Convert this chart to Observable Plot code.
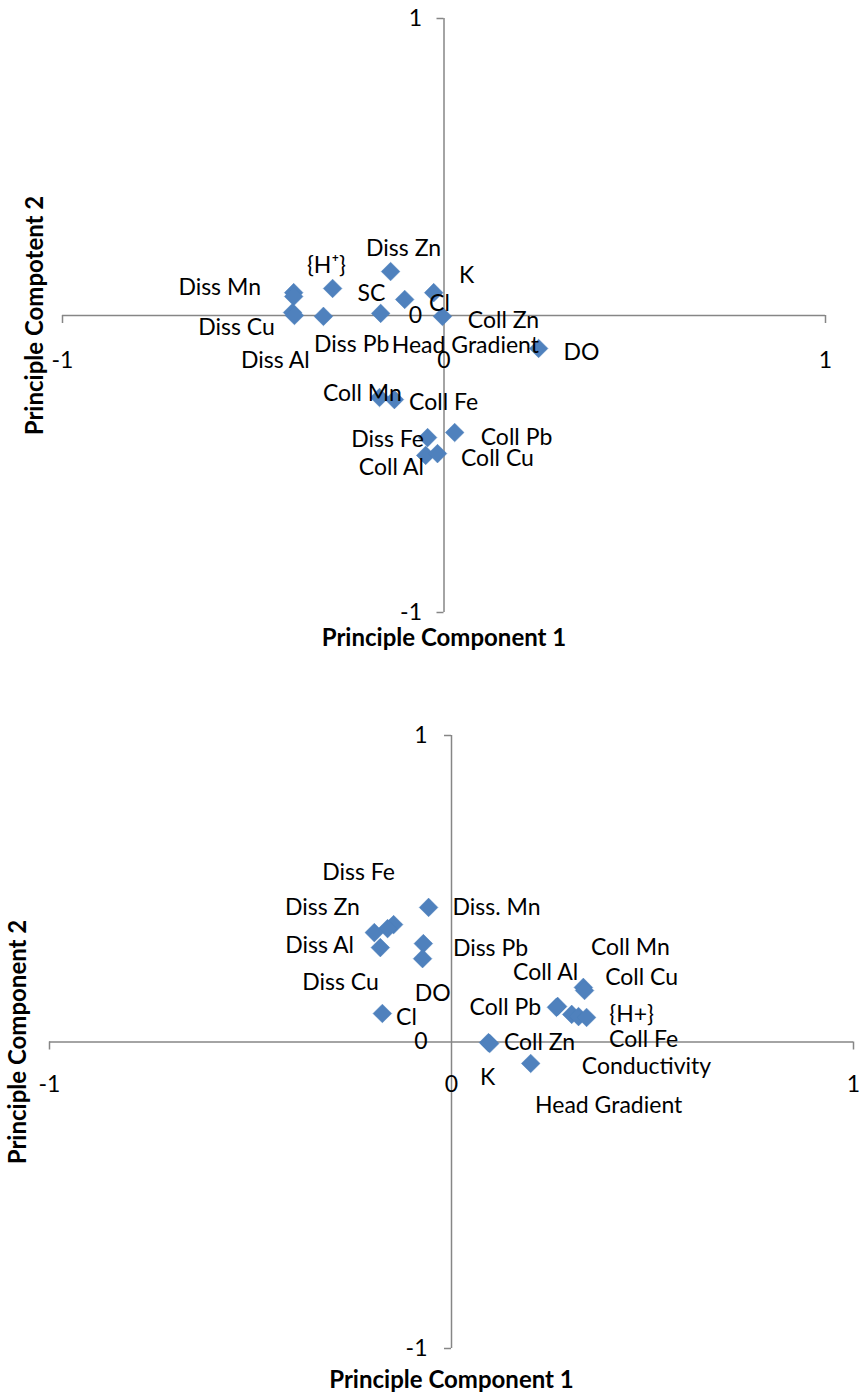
<!DOCTYPE html>
<html>
<head>
<meta charset="utf-8">
<script src="https://cdn.jsdelivr.net/npm/d3@7"></script>
<script src="https://cdn.jsdelivr.net/npm/@observablehq/plot@0.6"></script>
<style>
  body { margin: 0; background: #fff; }
  #charts { width: 862px; }
  #charts svg { display: block; }
</style>
</head>
<body>
<div id="charts"></div>
<script>
// ---- First analysis: loadings on PC1 / PC2 ----
const topNames = ["Diss Zn", "{H⁺}", "Diss Mn", "Diss Cu", "Diss Al", "Diss Pb", "SC", "Head Gradient", "Cl", "K", "Coll Zn", "DO", "Coll Mn", "Coll Fe", "Diss Fe", "Coll Pb", "Coll Al", "Coll Cu"];
const topPC1 = [-0.140, -0.292, -0.394, -0.394, -0.397, -0.392, -0.316, -0.166, -0.103, -0.027, -0.004, 0.248, -0.169, -0.130, -0.043, 0.028, -0.048, -0.017];
const topPC2 = [0.148, 0.091, 0.077, 0.064, 0.010, 0.000, -0.003, 0.007, 0.054, 0.077, -0.003, -0.111, -0.276, -0.283, -0.411, -0.394, -0.471, -0.465];
// where each data label sits (same units as the loadings)
const topLabelPC1 = [-0.106, -0.308, -0.588, -0.544, -0.442, -0.242, -0.190, 0.056, -0.012, 0.059, 0.156, 0.360, -0.214, -0.001, -0.148, 0.190, -0.138, 0.140];
const topLabelPC2 = [0.226, 0.168, 0.094, -0.040, -0.152, -0.098, 0.074, -0.101, 0.040, 0.135, -0.017, -0.125, -0.263, -0.293, -0.418, -0.411, -0.512, -0.481];

// ---- Second analysis ----
const botNames = ["Diss. Mn", "Diss Fe", "Diss Zn", "Diss Al", "Diss Cu", "Diss Pb", "DO", "Cl", "Coll Mn", "Coll Cu", "Coll Al", "Coll Pb", "{H+}", "Conductivity", "Coll Fe", "Coll Zn", "K", "Head Gradient"];
const botPC1 = [-0.057, -0.144, -0.159, -0.192, -0.177, -0.070, -0.072, -0.172, 0.328, 0.331, 0.264, 0.261, 0.299, 0.316, 0.336, 0.092, 0.095, 0.197];
const botPC2 = [0.439, 0.383, 0.370, 0.357, 0.308, 0.321, 0.272, 0.093, 0.178, 0.168, 0.116, 0.113, 0.090, 0.083, 0.080, -0.002, -0.005, -0.070];
const botLabelPC1 = [0.112, -0.231, -0.321, -0.328, -0.276, 0.097, -0.047, -0.112, 0.445, 0.473, 0.234, 0.134, 0.448, 0.485, 0.478, 0.219, 0.090, 0.391];
const botLabelPC2 = [0.439, 0.553, 0.439, 0.315, 0.194, 0.305, 0.158, 0.080, 0.308, 0.210, 0.227, 0.113, 0.090, -0.080, 0.008, -0.002, -0.116, -0.207];

const axisEnds = [-1, 1];
const axisZero = [0];
const tickValues = [-1, 0, 1];
const xTitle = "Principle Component 1";
const topYTitle = "Principle Compotent 2";
const botYTitle = "Principle Component 2";

const FONT = "Lato, 'Noto Sans', sans-serif";
const FS = 23;
const TITLE_FS = 24;
const AXIS = "#868686";
const BLUE = "#4F81BD";

function loadingPlot({names, pc1, pc2, lab1, lab2, yTitle, height, marginTop, marginBottom, marginLeft, marginRight, yTitleDx, xLabelDy, xTitleDy, yLabelDx}) {
  const pts = names.map((name, i) => ({name, pc1: pc1[i], pc2: pc2[i], l1: lab1[i], l2: lab2[i]}));
  return Plot.plot({
    width: 862,
    height,
    marginTop, marginBottom, marginLeft, marginRight,
    x: {domain: [-1, 1], axis: null},
    y: {domain: [-1, 1], axis: null},
    style: {fontFamily: FONT, fontSize: FS + "px", background: "#fff", overflow: "visible"},
    marks: [
      // axes crossing at the origin
      Plot.ruleY(axisZero, {x1: -1, x2: 1, stroke: AXIS, strokeWidth: 1.5}),
      Plot.ruleX(axisZero, {y1: -1, y2: 1, stroke: AXIS, strokeWidth: 1.5}),
      // tick marks at the axis ends
      Plot.ruleX(axisEnds, {y1: 0, y2: 0, insetBottom: -8, stroke: AXIS, strokeWidth: 1.5}),
      Plot.ruleY(axisEnds, {x1: 0, x2: 0, insetLeft: -7, stroke: AXIS, strokeWidth: 1.5}),
      // tick labels
      Plot.text(tickValues, {x: d => d, y: 0, text: d => String(d), dy: xLabelDy, fill: "#000", fontSize: FS}),
      Plot.text(tickValues, {x: 0, y: d => d, text: d => String(d), dx: yLabelDx, textAnchor: "end", fill: "#000", fontSize: FS}),
      // loadings
      Plot.dot(pts, {x: "pc1", y: "pc2", symbol: "diamond2", r: 8.4, fill: BLUE, stroke: "#4A7EBB", strokeWidth: 0.5}),
      Plot.text(pts, {x: "l1", y: "l2", text: "name", fill: "#000", fontSize: FS}),
      // axis titles
      Plot.text([xTitle], {frameAnchor: "bottom", lineAnchor: "middle", textAnchor: "middle", dy: xTitleDy, fontWeight: "bold", fontSize: TITLE_FS, fill: "#000"}),
      Plot.text([yTitle], {frameAnchor: "left", lineAnchor: "middle", textAnchor: "middle", rotate: -90, dx: yTitleDx, fontWeight: "bold", fontSize: TITLE_FS, fill: "#000"})
    ]
  });
}

const host = document.getElementById("charts");
host.append(loadingPlot({
  names: topNames, pc1: topPC1, pc2: topPC2, lab1: topLabelPC1, lab2: topLabelPC2,
  yTitle: topYTitle, height: 690, marginTop: 18, marginBottom: 78, marginLeft: 62, marginRight: 37,
  yTitleDx: -27, xLabelDy: 45, xTitleDy: 26, yLabelDx: -22
}));
host.append(loadingPlot({
  names: botNames, pc1: botPC1, pc2: botPC2, lab1: botLabelPC1, lab2: botLabelPC2,
  yTitle: botYTitle, height: 705, marginTop: 45, marginBottom: 47, marginLeft: 49, marginRight: 9,
  yTitleDx: -31, xLabelDy: 43, xTitleDy: 32, yLabelDx: -24
}));
</script>
</body>
</html>
